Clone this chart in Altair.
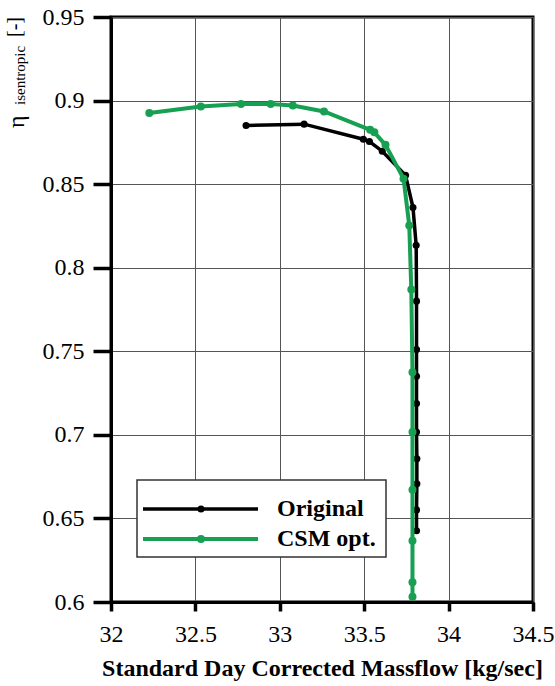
import altair as alt
import pandas as pd

# Compressor speed line: massflow [kg/sec] vs isentropic efficiency [-]
orig_massflow = [32.80, 33.144, 33.495, 33.531, 33.607, 33.745, 33.789, 33.808,
                 33.81, 33.81, 33.81, 33.81, 33.81, 33.812, 33.812, 33.81, 33.81]
orig_eta = [0.8851, 0.8859, 0.8769, 0.8755, 0.8697, 0.8553, 0.836, 0.8134,
            0.780, 0.751, 0.735, 0.7187, 0.7017, 0.6857, 0.6707, 0.6551, 0.6426]

csm_massflow = [32.227, 32.532, 32.77, 32.946, 33.077, 33.262, 33.535, 33.56,
                33.626, 33.733, 33.767, 33.779, 33.786, 33.786, 33.786, 33.786,
                33.786, 33.786]
csm_eta = [0.8926, 0.8965, 0.898, 0.898, 0.897, 0.8935, 0.8825, 0.881,
           0.8735, 0.8533, 0.8253, 0.787, 0.7374, 0.7017, 0.6671, 0.6367,
           0.6118, 0.6032]

x_ticks = [32, 32.5, 33, 33.5, 34, 34.5]
y_ticks = [0.6, 0.65, 0.7, 0.75, 0.8, 0.85, 0.9, 0.95]

GREEN = "#17a052"
FONT = "Times New Roman, Liberation Serif, Tinos, serif"

orig = pd.DataFrame({"m": orig_massflow, "eta": orig_eta,
                     "i": range(len(orig_eta))})
csm = pd.DataFrame({"m": csm_massflow, "eta": csm_eta,
                    "i": range(len(csm_eta))})

x_enc = alt.X("m:Q",
              scale=alt.Scale(domain=[32, 34.5], nice=False, zero=False),
              axis=alt.Axis(values=x_ticks, format="~g", tickSize=9,
                            labelPadding=11, labelFlush=False,
                            title="Standard Day Corrected Massflow [kg/sec]",
                            titleFont=FONT, titleFontSize=24,
                            titleFontWeight="bold", titleColor="black",
                            titlePadding=10))
y_enc = alt.Y("eta:Q",
              scale=alt.Scale(domain=[0.6, 0.95], nice=False, zero=False),
              axis=alt.Axis(values=y_ticks, format="~g", tickSize=18,
                            labelPadding=9, labelFlush=False, title=None))


def series(df, color, width, size):
    base = alt.Chart(df).encode(x=x_enc, y=y_enc, order="i:Q")
    line = base.mark_line(color=color, strokeWidth=width)
    pts = base.mark_point(filled=True, color=color, size=size, opacity=1)
    return line + pts


one = alt.Data(values=[{}])

# Legend box with line-and-marker samples
legend_box = alt.Chart(one).mark_rect(
    fill="white", stroke="#333333", strokeWidth=1.5
).encode(x=alt.value(26), x2=alt.value(275), y=alt.value(463), y2=alt.value(540))


def legend_item(y, color, label, width, size):
    rule = alt.Chart(one).mark_rule(color=color, strokeWidth=width).encode(
        x=alt.value(32), x2=alt.value(147), y=alt.value(y))
    dot = alt.Chart(one).mark_point(filled=True, color=color, size=size,
                                    opacity=1).encode(
        x=alt.value(90), y=alt.value(y))
    txt = alt.Chart(one).mark_text(
        text=label, font=FONT, fontSize=24, fontWeight="bold", color="black",
        align="left", baseline="alphabetic"
    ).encode(x=alt.value(166), y=alt.value(y + 7))
    return rule + dot + txt


# Rotated y-axis title: eta with subscript "isentropic" and unit
eta_sym = alt.Chart(one).mark_text(
    text="η", font=FONT, fontSize=24, color="black", angle=270,
    align="left", baseline="alphabetic"
).encode(x=alt.value(-87), y=alt.value(111))
eta_sub = alt.Chart(one).mark_text(
    text="isentropic", font=FONT, fontSize=15, color="black", angle=270,
    align="left", baseline="alphabetic"
).encode(x=alt.value(-86), y=alt.value(88))
eta_unit = alt.Chart(one).mark_text(
    text="[-]", font=FONT, fontSize=20, color="black", angle=270,
    align="left", baseline="alphabetic"
).encode(x=alt.value(-90), y=alt.value(20))

chart = alt.layer(
    series(orig, "black", 3.5, 50),
    series(csm, GREEN, 4, 64),
    legend_box,
    legend_item(492, "black", "Original", 3.5, 50),
    legend_item(522, GREEN, "CSM opt.", 4, 64),
    eta_sym, eta_sub, eta_unit,
).properties(
    width=422, height=585,
    autosize=alt.AutoSizeParams(type="none"),
    padding={"left": 111, "top": 17, "right": 22, "bottom": 84},
    background="white",
).configure_view(
    stroke="black", strokeWidth=3
).configure_axis(
    grid=True, gridColor="#555555", gridWidth=1,
    domainColor="black", domainWidth=3,
    tickColor="black", tickWidth=3.5,
    labelFont=FONT, labelFontSize=24, labelColor="black",
)

chart.save("out.html", embed_options={"renderer": "svg", "actions": False})
